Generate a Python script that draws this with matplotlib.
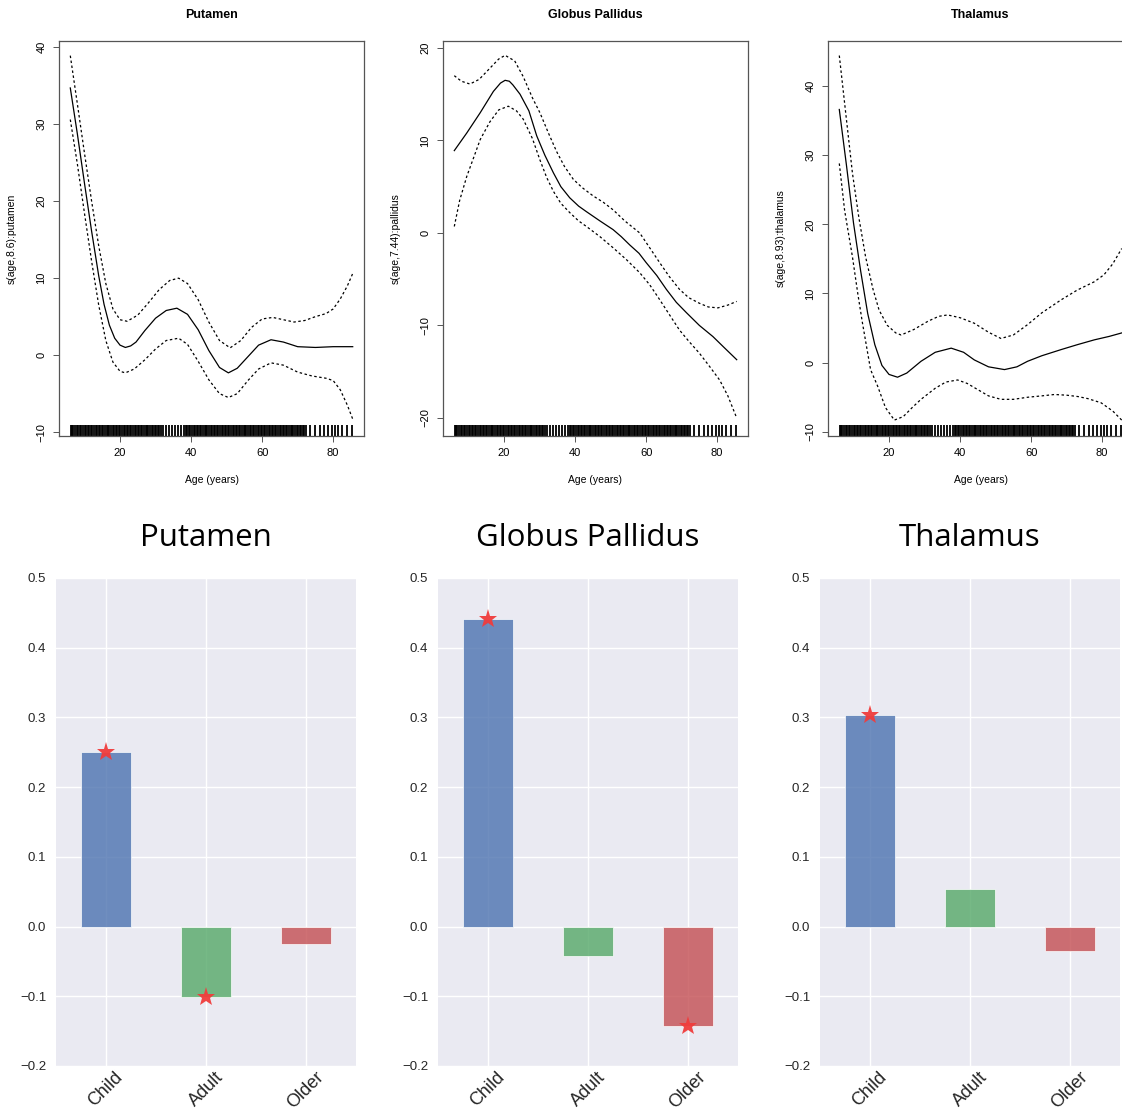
import matplotlib
matplotlib.use("Agg")
import matplotlib.pyplot as plt
import numpy as np

# ---------------- data ----------------
regions = ["Putamen", "Globus Pallidus", "Thalamus"]
ylabels = ["s(age,8.6):putamen", "s(age,7.44):pallidus", "s(age,8.93):thalamus"]

# rug of subject ages
rug_ages = [6.1, 6.5, 6.9, 7.4, 7.8, 8.2, 8.7, 9.1, 9.6, 10.0, 10.4, 10.9, 11.3, 11.8,
            12.2, 12.6, 13.1, 13.5, 14.0, 14.4, 14.8, 15.3, 15.7, 16.2, 16.6, 17.0,
            17.5, 17.9, 18.4, 18.8, 19.2, 19.7, 20.1, 20.6, 21.0, 21.4, 21.9, 22.3,
            22.8, 23.2, 23.6, 24.1, 24.5, 25.0, 25.4, 25.8, 26.3, 26.7, 27.2, 27.6,
            28.0, 28.5, 28.9, 29.4, 29.8, 30.2, 30.7, 31.1, 31.6, 32.0, 32.9, 33.8,
            34.7, 35.5, 36.3, 37.2, 38.0, 38.5, 38.9, 39.4, 39.8, 40.2, 40.7, 41.1,
            41.6, 42.0, 42.4, 42.9, 43.3, 43.8, 44.2, 44.6, 45.1, 45.5, 46.0, 46.4,
            46.8, 47.3, 47.7, 48.2, 48.6, 49.0, 49.5, 49.9, 50.4, 50.8, 51.2, 51.7,
            52.1, 52.6, 53.0, 53.4, 53.9, 54.3, 54.8, 55.2, 55.6, 56.1, 56.5, 57.0,
            57.4, 57.8, 58.3, 58.7, 59.2, 59.6, 60.0, 60.5, 60.9, 61.4, 61.8, 62.2,
            62.7, 63.1, 63.6, 64.0, 64.4, 64.9, 65.3, 65.8, 66.2, 66.6, 67.1, 67.5,
            68.0, 68.4, 68.8, 69.3, 69.7, 70.2, 70.6, 71.0, 71.5, 71.9, 72.4, 73.5,
            74.9, 76.3, 77.5, 78.6, 79.7, 80.5, 81.4, 82.5, 83.9, 85.4]

# Putamen smooth
put_fit_x = [6.0, 8.0, 10.0, 12.0, 14.0, 15.5, 17.0, 18.5, 20.0, 21.5, 23, 24.5, 27, 30, 33, 36,
             39, 42, 45, 48, 50.5, 53, 56, 59, 62.5, 66, 70, 75, 80, 85.5]
put_fit_y = [34.7, 28.7, 22.3, 16.1, 10.3, 6.6, 3.9, 2.2, 1.3, 1.0, 1.2, 1.7, 3.2, 4.8, 5.8, 6.1,
             5.3, 3.3, 0.6, -1.6, -2.3, -1.7, -0.2, 1.3, 2.0, 1.7, 1.1, 1.0, 1.1, 1.1]
put_up_x = [6.0, 8.0, 10.0, 12.0, 14.0, 16.0, 18.0, 20.0, 22.0, 25, 28, 31, 34, 36.5, 39,
            42, 45, 48, 51, 54, 57, 60, 63, 66, 69, 72, 75, 78, 80, 82, 84, 85.5]
put_up_y = [38.9, 32.6, 26.2, 20.0, 14.2, 9.3, 6.0, 4.6, 4.4, 5.2, 6.8, 8.5, 9.7, 10.0, 9.3,
            7.2, 4.3, 1.9, 0.95, 1.9, 3.6, 4.7, 4.9, 4.6, 4.3, 4.5, 5.0, 5.4, 6.0, 7.3, 9.0, 10.6]
put_lo_x = [6.0, 8.0, 10.0, 12.0, 14.0, 16.0, 18.0, 20.0, 21.5, 24, 27, 30, 33, 36.5, 39,
            42, 45, 48, 50.5, 53, 56, 59, 62.5, 66, 70, 74, 78, 80, 82, 84, 85.5]
put_lo_y = [30.6, 24.8, 18.4, 12.2, 6.5, 1.9, -0.9, -2.1, -2.3, -1.8, -0.6, 0.8, 1.9, 2.2, 1.4,
            -0.8, -3.2, -5.0, -5.5, -5.0, -3.3, -1.8, -1.0, -1.3, -2.2, -2.7, -3.0, -3.3, -4.5, -6.5, -8.3]

# Globus Pallidus smooth
gp_fit_x = [6, 9.5, 13.3, 17, 19, 20.3, 21.5, 22.5, 24.5, 27, 29.2, 31.5, 33.9, 36, 38.5, 41,
            43.2, 47, 50.7, 53, 55.4, 58, 60, 63, 65.7, 68.5, 71.3, 75, 78.8, 82, 85.5]
gp_fit_y = [8.9, 10.8, 13.0, 15.3, 16.2, 16.5, 16.4, 16.0, 15.0, 13.2, 10.5, 8.4, 6.5, 5.0, 3.8,
            2.9, 2.3, 1.3, 0.36, -0.4, -1.3, -2.2, -3.2, -4.6, -6.1, -7.5, -8.6, -10.0, -11.2,
            -12.4, -13.7]
gp_up_x = [6, 8, 10.4, 13, 16, 18.5, 20.3, 23, 25.4, 28, 30.1, 32.5, 34.8, 37, 39.5, 42, 45.1,
           48, 50.7, 54, 58.2, 61, 63.8, 66.5, 69.4, 72, 75, 77.5, 80.2, 83, 85.5]
gp_up_y = [17.0, 16.4, 16.1, 16.6, 17.8, 18.8, 19.2, 18.6, 16.9, 14.6, 13.0, 10.8, 8.8, 7.2, 5.8,
           4.9, 4.0, 3.3, 2.5, 1.3, 0.0, -1.6, -3.2, -4.7, -6.1, -7.0, -7.6, -8.0, -8.1, -7.8, -7.4]
gp_lo_x = [6, 7.5, 9.5, 11.5, 13.3, 16, 18.5, 21.2, 23.5, 25.4, 28, 30.1, 32, 33.9, 36, 38.5,
           41, 43.2, 47, 50.7, 54.5, 58.2, 61, 63.8, 66.5, 69.4, 72, 75, 78, 80.7, 83, 85.5]
gp_lo_y = [0.7, 3.5, 6.1, 8.2, 10.1, 12.0, 13.3, 13.7, 13.2, 12.3, 10.2, 7.9, 6.0, 4.5, 3.2, 2.2,
           1.3, 0.7, -0.4, -1.6, -2.9, -4.3, -5.6, -7.2, -8.8, -10.5, -11.7, -13.0, -14.5, -15.9, -17.6, -20.0]

# Thalamus smooth
th_fit_x = [6, 8, 10, 12, 14, 16, 18, 20, 22.4, 25, 29, 33, 37.5, 41, 44, 48, 52.5, 56, 59, 63,
            68.5, 73, 77.8, 82, 85.5]
th_fit_y = [36.6, 28.6, 20.2, 13.3, 7.1, 2.6, -0.4, -1.7, -2.1, -1.5, 0.2, 1.5, 2.1, 1.5, 0.4,
            -0.6, -1.0, -0.6, 0.2, 1.0, 1.9, 2.6, 3.3, 3.8, 4.3]
th_up_x = [6, 8, 9.7, 11.5, 13.4, 15.5, 17.2, 19.5, 21.9, 23.4, 27, 31, 34, 36.5, 40, 44, 48,
           51.5, 55, 59, 63, 68.5, 73, 77.8, 80.5, 83, 85.5]
th_up_y = [44.4, 35.2, 27.4, 21.0, 15.3, 10.6, 7.6, 5.4, 4.3, 4.0, 4.8, 6.0, 6.7, 6.9, 6.5, 5.7,
           4.4, 3.5, 4.0, 5.5, 7.2, 9.1, 10.5, 11.7, 12.7, 14.3, 16.5]
th_lo_x = [6, 7.5, 9.7, 11.2, 12.5, 14.8, 16.8, 19, 21.5, 24, 26.5, 29, 33, 36, 39.3, 42, 45, 48,
           51.5, 55, 59, 63, 66.6, 70, 73.2, 76, 79.7, 83, 85.5]
th_lo_y = [28.8, 22.0, 15.3, 10.0, 5.8, -1.0, -3.4, -6.5, -8.3, -7.8, -6.5, -5.3, -3.7, -2.8, -2.5,
           -3.0, -3.9, -4.8, -5.3, -5.3, -5.0, -4.8, -4.6, -4.7, -4.9, -5.2, -5.8, -7.0, -8.3]

gam_ylims = [(-10.5, 40.8), (-21.95, 20.75), (-10.6, 46.5)]
gam_yticks = [[-10, 0, 10, 20, 30, 40], [-20, -10, 0, 10, 20], [-10, 0, 10, 20, 30, 40]]
age_ticks = [20, 40, 60, 80]

# bar charts
groups = ["Child", "Adult", "Older"]
put_bars = [0.251, -0.1005, -0.0245]
gp_bars = [0.441, -0.0425, -0.1425]
th_bars = [0.303, 0.054, -0.035]
put_sig = ["Child", "Adult"]
gp_sig = ["Child", "Older"]
th_sig = ["Child"]
bar_colors = ["#4C72B0", "#55A868", "#C44E52"]
bar_yticks = [-0.2, -0.1, 0.0, 0.1, 0.2, 0.3, 0.4, 0.5]

# ---------------- figure ----------------
W, H = 1122, 1111
fig = plt.figure(figsize=(W / 100, H / 100), dpi=100)


def px_axes(left, top, right, bottom):
    return fig.add_axes([left / W, 1 - bottom / H, (right - left) / W, (bottom - top) / H])


rfont = "Liberation Sans"
gam_data = [
    (put_fit_x, put_fit_y, put_up_x, put_up_y, put_lo_x, put_lo_y),
    (gp_fit_x, gp_fit_y, gp_up_x, gp_up_y, gp_lo_x, gp_lo_y),
    (th_fit_x, th_fit_y, th_up_x, th_up_y, th_lo_x, th_lo_y),
]
top_lefts = [59, 443, 828]
for i in range(3):
    l = top_lefts[i]
    ax = px_axes(l, 41, l + 305, 436)
    fx, fy, ux, uy, lx, ly = gam_data[i]
    ax.plot(fx, fy, color="black", lw=0.9)
    ax.plot(ux, uy, color="black", lw=0.9, linestyle=(0, (2.0, 2.0)))
    ax.plot(lx, ly, color="black", lw=0.9, linestyle=(0, (2.0, 2.0)))
    ax.vlines(rug_ages, 0, 0.027, transform=ax.get_xaxis_transform(), color="black", lw=1.3)
    ax.set_xlim(2.82, 88.68)
    ax.set_ylim(*gam_ylims[i])
    ax.set_xticks(age_ticks)
    ax.set_yticks(gam_yticks[i])
    for s in ax.spines.values():
        s.set_color("#555555")
        s.set_linewidth(0.9)
    ax.tick_params(direction="out", length=4, width=0.7, color="#555555", labelsize=8,
                   pad=5)
    for t in ax.get_xticklabels() + ax.get_yticklabels():
        t.set_fontfamily(rfont)
    for t in ax.get_yticklabels():
        t.set_rotation(90)
        t.set_va("center")
    ax.set_xlabel("Age (years)", fontsize=7.5, family=rfont, labelpad=12)
    ax.set_ylabel(ylabels[i], fontsize=7.5, family=rfont, labelpad=14)
    fig.text((l + 152) / W, 1 - 15 / H, regions[i], fontsize=9, fontweight="bold",
             family=rfont, ha="center", va="center")

bars_all = [put_bars, gp_bars, th_bars]
sig_all = [put_sig, gp_sig, th_sig]
bot_lefts = [56, 438, 820]
for i in range(3):
    l = bot_lefts[i]
    ax = px_axes(l, 578, l + 300, 1066)
    ax.set_facecolor("#EAEAF2")
    ax.set_axisbelow(True)
    ax.grid(True, color="white", lw=1.0)
    xs = np.arange(len(groups))
    ax.bar(xs, bars_all[i], width=0.5, color=bar_colors, alpha=0.8,
           edgecolor="white", linewidth=0.6)
    for g in sig_all[i]:
        k = groups.index(g)
        ax.plot(xs[k], bars_all[i][k], marker="*", markersize=14, color="#F03C3C",
                markeredgewidth=0, alpha=0.95)
    ax.set_xlim(-0.5, 2.5)
    ax.set_ylim(-0.2, 0.5)
    ax.set_yticks(bar_yticks)
    ax.set_yticklabels([f"{v:.1f}".replace("-", "\u2212") for v in bar_yticks])
    ax.set_xticks(xs)
    ax.set_xticklabels(groups, rotation=45, ha="center", fontsize=13, family=rfont,
                       color="#262626")
    for t in ax.get_yticklabels():
        t.set_fontfamily(rfont)
    ax.tick_params(axis="y", labelsize=9.5, colors="#262626", length=0, pad=7)
    ax.tick_params(axis="x", length=0, pad=2)
    for s in ax.spines.values():
        s.set_visible(False)
    fig.text((l + 150) / W, 1 - 538 / H, regions[i], fontsize=22.5, family="Open Sans",
             ha="center", va="center", color="black")

fig.savefig("out.png", dpi=100)
